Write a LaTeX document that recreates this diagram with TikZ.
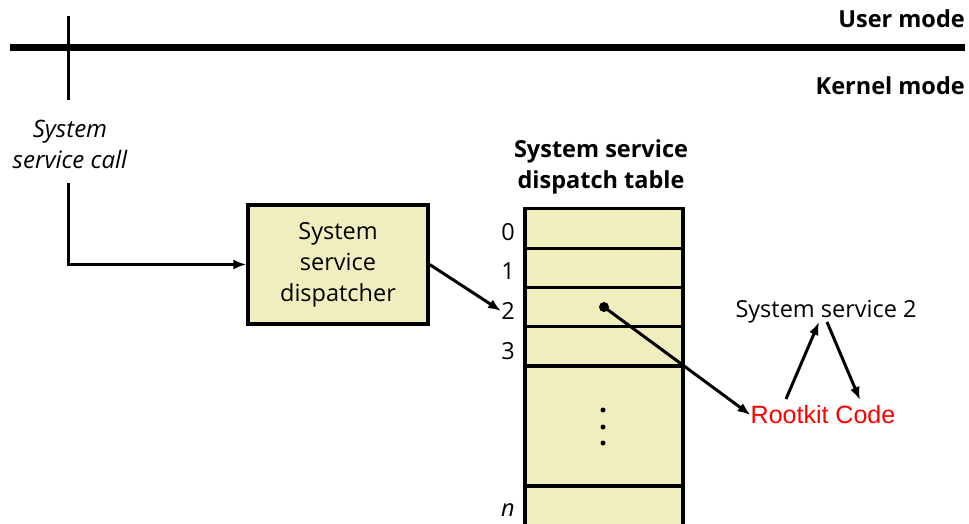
\documentclass[tikz,border=0pt]{standalone}
\usepackage{fontspec}
\setmainfont{Open Sans}
\newfontfamily\arialfont{Liberation Sans}
\usepackage{tikz}
\usetikzlibrary{arrows.meta}

\begin{document}
\begin{tikzpicture}[x=1pt, y=-1pt, >={Latex[length=13pt,width=10pt]},
		row_style/.style={rectangle,draw=black,line width=3.3pt,fill=boxyellow,inner sep=0pt,minimum width=158pt},
		box_style/.style={rectangle,draw=black,line width=3.3pt,fill=boxyellow,inner sep=0pt,minimum width=180pt,minimum height=119pt,align=center,font=\fontsize{23.5}{31}\selectfont},
		text_style/.style={inner sep=0pt,font=\fontsize{23.5}{31}\selectfont},
		edge_style/.style={draw=black,line width=3pt,->}]
		\definecolor{boxyellow}{RGB}{240,237,190}
		\useasboundingbox (0,0) rectangle (969,524);
		
		% mode boundary
		\draw[line width=7pt] (10,48) -- (965,48);
		\draw[line width=3pt] (68,16) -- (68,100);
		\node[text_style,anchor=east,font=\fontsize{23.5}{31}\selectfont\bfseries] (um) at (965,19) {User mode};
		\node[text_style,anchor=east,font=\fontsize{23.5}{31}\selectfont\bfseries] (km) at (965,86) {Kernel mode};
		
		\node[text_style,align=center,font=\fontsize{24}{31}\selectfont\itshape] (call) at (70,144) {System\\service call};
		\coordinate (c1) at (68,183);
		
		\node[box_style] (disp) at (338,264.5) {System\\service\\dispatcher};
		
		% dispatch table
		\node[text_style,align=center,font=\fontsize{23.5}{31}\selectfont\bfseries] (title) at (601,167) {System service\\dispatch table};
		\node[row_style,minimum height=39.5pt] (r0) at (604,228.5) {};
		\node[row_style,minimum height=39.5pt] (r1) at (604,268) {};
		\node[row_style,minimum height=39.5pt] (r2) at (604,307.5) {};
		\node[row_style,minimum height=39.5pt] (r3) at (604,346.5) {};
		\node[row_style,minimum height=120pt] (r4) at (604,426) {};
		\node[row_style,minimum height=40pt] (r5) at (604,506) {};
		
		\node[text_style] (l0) at (508,232) {0};
		\node[text_style] (l1) at (508,271) {1};
		\node[text_style] (l2) at (508,311) {2};
		\node[text_style] (l3) at (508,351) {3};
		\node[text_style,font=\fontsize{23.5}{31}\selectfont\itshape] (ln) at (508,510) {n};
		
		\foreach \y in {410,427,443}
			\fill (603,\y) circle (2.5pt);
		\node[circle,fill=black,inner sep=0pt,minimum size=10pt] (d2) at (604,307) {};
		
		\node[text_style] (s2) at (826,312) {System service 2};
		\node[text_style,text=red,font=\arialfont\fontsize{25}{31}\selectfont] (rk) at (823,415) {Rootkit Code};
		\coordinate (a1) at (786,399);
		\coordinate (a2) at (819,322);
		\coordinate (a3) at (827,322);
		\coordinate (a4) at (860,400);
		
		\draw[edge_style] (c1) |- (disp.west);
		\draw[edge_style] (disp.east) -- (l2.west);
		\draw[edge_style,shorten <=0pt] (d2.center) -- (rk.west);
		\draw[edge_style] (a1) -- (a2);
		\draw[edge_style] (a3) -- (a4);
		
		\end{tikzpicture}
\end{document}
